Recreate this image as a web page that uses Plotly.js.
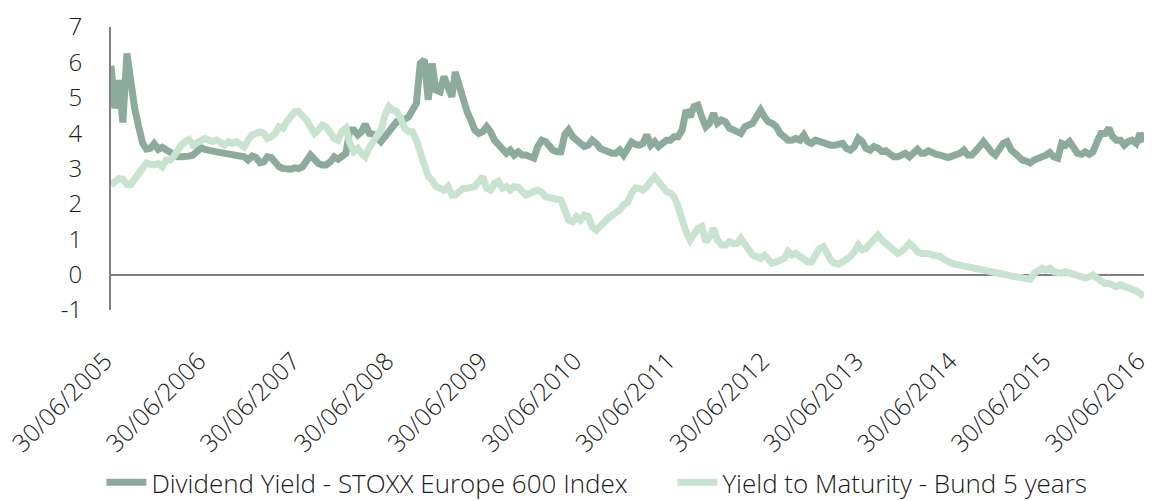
<!DOCTYPE html>
<html>
<head>
<meta charset="utf-8">
<script src="https://cdn.plot.ly/plotly-3.0.1.min.js"></script>
<style>
  html, body { margin: 0; padding: 0; background: #fff; }
  #chart { width: 1152px; height: 501px; }
</style>
</head>
<body>
<div id="chart"></div>
<script>
// Semi-monthly observations from 30/06/2005 to 30/06/2016 (month-end and the 15th)
const seriesNames = ["Dividend Yield - STOXX Europe 600 Index", "Yield to Maturity - Bund 5 years"];

const tickDates = ["2005-06-30","2006-06-30","2007-06-30","2008-06-30","2009-06-30","2010-06-30",
                   "2011-06-30","2012-06-30","2013-06-30","2014-06-30","2015-06-30","2016-06-30"];
const tickLabels = ["30/06/2005","30/06/2006","30/06/2007","30/06/2008","30/06/2009","30/06/2010",
                    "30/06/2011","30/06/2012","30/06/2013","30/06/2014","30/06/2015","30/06/2016"];
const yTickValues = [-1, 0, 1, 2, 3, 4, 5, 6, 7];
const yTickLabels = ["-1", "0", "1", "2", "3", "4", "5", "6", "7"];

const dividendYield = [
5.9,4.7,5.5,4.3,6.25,5.4,4.7,4.2,3.72,3.55,
3.57,3.7,3.54,3.6,3.52,3.47,3.43,3.33,3.33,3.33,
3.35,3.38,3.52,3.59,3.54,3.5,3.49,3.47,3.45,3.43,
3.42,3.38,3.36,3.31,3.33,3.24,3.35,3.31,3.16,3.19,
3.33,3.31,3.16,3.05,3.0,2.98,2.98,3.02,3.0,3.05,
3.19,3.38,3.26,3.14,3.1,3.1,3.19,3.33,3.26,3.35,
3.43,4.09,4.09,3.95,4.04,4.25,3.99,3.97,3.85,3.76,
3.9,4.04,4.23,4.32,4.32,4.37,4.46,4.65,4.84,5.97,
6.07,4.94,5.97,5.22,5.17,5.6,5.22,5.03,5.73,5.31,
4.89,4.61,4.37,4.09,3.99,4.04,4.18,4.04,3.8,3.66,
3.52,3.43,3.52,3.38,3.47,3.38,3.38,3.33,3.29,3.62,
3.8,3.76,3.62,3.52,3.47,3.47,3.95,4.09,3.9,3.8,
3.71,3.62,3.66,3.8,3.71,3.57,3.52,3.47,3.43,3.43,
3.52,3.38,3.55,3.75,3.68,3.66,3.71,3.95,3.66,3.76,
3.62,3.71,3.8,3.8,3.9,3.9,4.09,4.65,4.46,4.75,
4.79,4.46,4.18,4.28,4.56,4.28,4.37,4.32,4.14,4.09,
4.04,3.99,4.18,4.23,4.28,4.46,4.65,4.46,4.32,4.28,
4.18,3.99,3.9,3.8,3.8,3.85,3.8,3.95,3.76,3.71,
3.8,3.76,3.71,3.71,3.66,3.66,3.71,3.71,3.57,3.52,
3.62,3.85,3.76,3.57,3.52,3.62,3.57,3.48,3.5,3.43,
3.33,3.33,3.38,3.43,3.33,3.47,3.54,3.43,3.43,3.5,
3.43,3.4,3.38,3.35,3.31,3.35,3.38,3.43,3.52,3.38,
3.38,3.47,3.62,3.76,3.57,3.47,3.38,3.52,3.71,3.76,
3.52,3.43,3.33,3.24,3.21,3.16,3.24,3.26,3.33,3.38,
3.45,3.33,3.29,3.71,3.66,3.76,3.62,3.43,3.4,3.47,
3.4,3.47,3.76,3.99,3.99,4.14,3.9,3.8,3.8,3.66,
3.76,3.8,3.71,3.99,3.75
];

const bundYield = [
2.53,2.62,2.72,2.7,2.55,2.55,2.7,2.86,3.05,3.16,
3.12,3.1,3.14,3.05,3.24,3.24,3.33,3.52,3.66,3.76,
3.82,3.66,3.71,3.8,3.85,3.8,3.76,3.8,3.71,3.66,
3.76,3.71,3.76,3.66,3.61,3.8,3.95,3.99,4.04,3.99,
3.85,3.9,3.99,4.18,4.14,4.32,4.51,4.61,4.61,4.51,
4.37,4.18,3.99,4.09,4.23,4.18,4.04,3.85,3.8,4.04,
4.14,3.71,3.48,3.57,3.43,3.33,3.59,3.78,3.9,4.09,
4.51,4.75,4.65,4.61,4.42,4.14,4.04,4.04,3.8,3.47,
3.05,2.77,2.67,2.49,2.44,2.39,2.49,2.25,2.25,2.35,
2.44,2.44,2.49,2.49,2.63,2.77,2.44,2.39,2.58,2.63,
2.44,2.49,2.39,2.49,2.47,2.35,2.25,2.3,2.35,2.39,
2.32,2.2,2.18,2.16,2.16,2.11,1.83,1.54,1.5,1.64,
1.54,1.68,1.64,1.35,1.26,1.4,1.47,1.59,1.68,1.73,
1.83,1.97,2.05,2.3,2.45,2.44,2.39,2.49,2.67,2.77,
2.63,2.49,2.35,2.3,2.2,1.92,1.54,1.21,0.98,1.17,
1.31,1.36,0.93,1.07,1.31,0.98,0.84,0.84,0.93,0.88,
0.88,1.03,0.84,0.7,0.55,0.51,0.46,0.55,0.41,0.32,
0.36,0.41,0.46,0.65,0.55,0.6,0.51,0.41,0.36,0.36,
0.55,0.74,0.79,0.6,0.41,0.32,0.3,0.36,0.41,0.51,
0.65,0.84,0.7,0.74,0.88,1.03,1.12,0.98,0.88,0.84,
0.7,0.6,0.65,0.79,0.88,0.79,0.65,0.6,0.6,0.6,
0.55,0.53,0.51,0.43,0.36,0.32,0.29,0.27,0.24,0.21,
0.18,0.18,0.18,0.15,0.13,0.11,0.08,0.05,0.01,-0.01,
-0.04,-0.06,-0.08,-0.08,-0.1,-0.13,0.04,0.13,0.18,0.13,
0.18,0.08,0.04,0.04,0.08,0.04,-0.01,-0.04,-0.06,-0.1,
-0.06,-0.01,-0.1,-0.2,-0.25,-0.25,-0.28,-0.34,-0.29,-0.32,
-0.39,-0.39,-0.46,-0.53,-0.62
];

// calendar of observation dates: month-end, then the 15th of the next month, ...
function observationDates(n) {
  const out = [];
  for (let i = 0; i < n; i++) {
    const m = 5 + Math.floor(i / 2) + (i % 2);     // 0-based months since Jan 2005
    const year = 2005 + Math.floor(m / 12);
    const month = m % 12;
    let day;
    if (i % 2 === 0) day = new Date(Date.UTC(year, month + 1, 0)).getUTCDate();
    else day = 15;
    out.push(year + "-" + String(month + 1).padStart(2, "0") + "-" + String(day).padStart(2, "0"));
  }
  return out;
}
const dates = observationDates(dividendYield.length);

const FONT = "'Open Sans', 'Liberation Sans', Arial, sans-serif";
const YTEXT = { family: FONT, size: 24, color: "#1a1a1a", weight: 300 };
const XTEXT = { family: FONT, size: 24.5, color: "#1a1a1a", weight: 300 };
const LTEXT = { family: FONT, size: 26, color: "#1a1a1a", weight: 300 };

const traces = [
  { x: dates, y: dividendYield, name: seriesNames[0], type: "scatter", mode: "lines",
    line: { color: "#8dab9d", width: 7 }, legendwidth: 516 },
  { x: dates, y: bundYield, name: seriesNames[1], type: "scatter", mode: "lines",
    line: { color: "#c8e4d0", width: 7 }, legendwidth: 370 }
];

const layout = {
  width: 1152, height: 501,
  margin: { l: 111, r: 8, t: 27, b: 191 },
  paper_bgcolor: "#fff", plot_bgcolor: "#fff",
  font: YTEXT,
  showlegend: true,
  legend: { orientation: "h", xref: "container", yref: "container",
            x: 0.088, xanchor: "left", y: 0.037, yanchor: "middle",
            bgcolor: "rgba(0,0,0,0)", borderwidth: 0,
            entrywidthmode: "pixels",
            font: LTEXT, itemwidth: 40 },
  xaxis: {
    type: "date", range: ["2005-06-30", "2016-06-30 12:00"],
    tickmode: "array", tickvals: tickDates, ticktext: tickLabels,
    tickangle: -45, showgrid: false, zeroline: false, showline: false, ticks: "",
    ticklabelstandoff: 31, ticklabelshift: -6, ticklabeloverflow: "allow",
    automargin: false, tickfont: XTEXT
  },
  yaxis: {
    range: [-1, 7], tickmode: "array", tickvals: yTickValues, ticktext: yTickLabels,
    showgrid: false,
    showline: true, linecolor: "#808080", linewidth: 2,
    zeroline: true, zerolinecolor: "#808080", zerolinewidth: 2,
    ticks: "", ticklabelstandoff: 22, automargin: false, tickfont: YTEXT
  }
};

Plotly.newPlot("chart", traces, layout, { displayModeBar: false, staticPlot: true });
</script>
</body>
</html>
